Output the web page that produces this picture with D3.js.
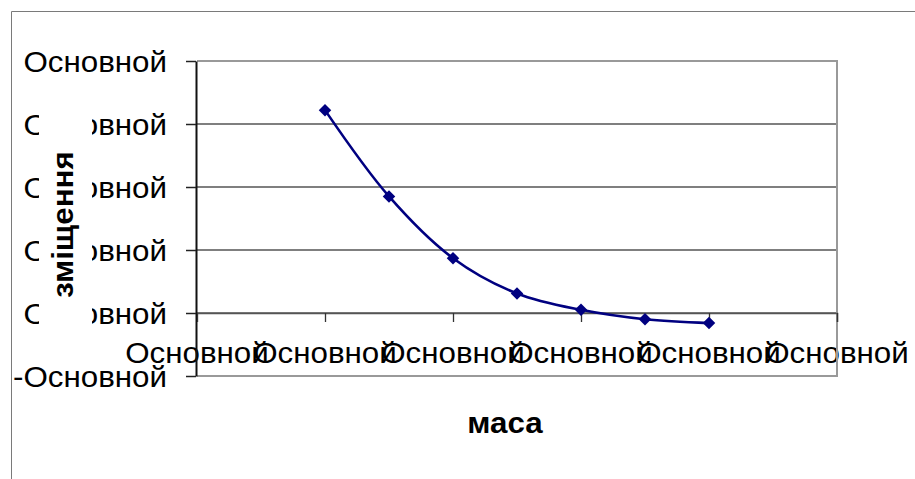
<!DOCTYPE html>
<html>
<head>
<meta charset="utf-8">
<script src="https://cdn.jsdelivr.net/npm/d3@7/dist/d3.min.js"></script>
<style>
  html, body { margin: 0; padding: 0; background: #fff; }
  svg { display: block; }
  text { font-family: "Liberation Sans", Arial, sans-serif; fill: #000; }
</style>
</head>
<body>
<svg id="chart" width="915" height="479"></svg>
<script>
// Mass (x) and measured displacement (y)
const massValues   = [2, 3, 4, 5, 6, 7, 8];
const displacement = [3.22, 1.85, 0.87, 0.31, 0.05, -0.10, -0.16];

// Axis ticks and their (spreadsheet-formatted) labels
const xTicks      = [0, 2, 4, 6, 8, 10];
const xTickLabels = ["Основной", "Основной", "Основной", "Основной", "Основной", "Основной"];
const yTicks      = [-1, 0, 1, 2, 3, 4];
const yTickLabels = ["-Основной", "Основной", "Основной", "Основной", "Основной", "Основной"];

const xTitle = "маса";
const yTitle = "зміщення";

const W = 915, H = 479;
const plot = { left: 197, right: 837, top: 61, bottom: 376 };
const FONT = 29;
const STRETCH = 1.08;

const svg = d3.select("#chart");

const x = d3.scaleLinear().domain([0, 10]).range([plot.left, plot.right]);
const y = d3.scaleLinear().domain([-1, 4]).range([plot.bottom, plot.top]);

// widen glyphs slightly, as the chart's text is rendered a bit wide
function widen(sel) {
  sel.each(function () {
    const w = this.getComputedTextLength();
    this.setAttribute("textLength", w * STRETCH);
    this.setAttribute("lengthAdjust", "spacingAndGlyphs");
  });
}

// outer chart frame
svg.append("path")
  .attr("d", `M11.5,${H} V11.5 H${W}`)
  .attr("fill", "none").attr("stroke", "#7a7a7a").attr("stroke-width", 1);

// horizontal gridlines
svg.append("g")
  .selectAll("line")
  .data(yTicks.filter(v => v > -1 && v < 4))
  .join("line")
  .attr("x1", plot.left).attr("x2", plot.right)
  .attr("y1", d => y(d)).attr("y2", d => y(d))
  .attr("stroke", "#555").attr("stroke-width", 1.4);

// x tick labels (centred under the ticks, they overlap each other)
const xLab = svg.append("g")
  .selectAll("text")
  .data(xTicks)
  .join("text")
  .attr("x", d => x(d))
  .attr("y", y(0) + 50)
  .attr("text-anchor", "middle")
  .attr("font-size", FONT)
  .text((d, i) => xTickLabels[i]);
widen(xLab);

// y tick labels
const yLab = svg.append("g")
  .selectAll("text")
  .data(yTicks)
  .join("text")
  .attr("x", plot.left - 30)
  .attr("y", d => y(d) + 11)
  .attr("text-anchor", "end")
  .attr("font-size", FONT)
  .text((d, i) => yTickLabels[i]);
widen(yLab);

// plot area border (top, right, bottom)
svg.append("path")
  .attr("d", `M${plot.left},${plot.top} H${plot.right} V${plot.bottom} H${plot.left}`)
  .attr("fill", "none").attr("stroke", "#999").attr("stroke-width", 2);

// x axis at zero with downward ticks
const xAxis = d3.axisBottom(x).tickValues(xTicks).tickSize(9).tickFormat("");
const gx = svg.append("g").attr("transform", `translate(0,${y(0)})`).call(xAxis);
gx.select(".domain").attr("stroke", "#555").attr("stroke-width", 1.4);
gx.selectAll(".tick line").attr("stroke", "#333").attr("stroke-width", 1.3);
gx.selectAll(".tick").filter(d => d === 0).remove();

// y axis with outward ticks
const yAxis = d3.axisLeft(y).tickValues(yTicks).tickSize(10).tickSizeOuter(0).tickFormat("");
const gy = svg.append("g").attr("transform", `translate(${plot.left - 1},0)`).call(yAxis);
gy.select(".domain").attr("stroke", "#111").attr("stroke-width", 2);
gy.selectAll(".tick line").attr("stroke", "#222").attr("stroke-width", 1.5);

// y axis title on a white box
const yTitleCy = (plot.top + plot.bottom) / 2 + 6;
svg.append("rect")
  .attr("x", 39).attr("y", yTitleCy - 118)
  .attr("width", 53).attr("height", 236)
  .attr("fill", "#fff");
const yt = svg.append("text")
  .attr("transform", `translate(73,${yTitleCy}) rotate(-90)`)
  .attr("text-anchor", "middle")
  .attr("font-size", FONT).attr("font-weight", "bold")
  .text(yTitle);
widen(yt);

// x axis title
const xt = svg.append("text")
  .attr("x", 505)
  .attr("y", 433)
  .attr("text-anchor", "middle")
  .attr("font-size", FONT).attr("font-weight", "bold")
  .text(xTitle);
widen(xt);

// data series: smoothed line with diamond markers
const pts = massValues.map((m, i) => [m, displacement[i]]);
const line = d3.line()
  .x(d => x(d[0])).y(d => y(d[1]))
  .curve(d3.curveCatmullRom.alpha(0.5));

svg.append("path")
  .datum(pts)
  .attr("d", line)
  .attr("fill", "none")
  .attr("stroke", "#000080")
  .attr("stroke-width", 2.6);

svg.append("g")
  .selectAll("path")
  .data(pts)
  .join("path")
  .attr("transform", d => `translate(${x(d[0])},${y(d[1])})`)
  .attr("d", d3.symbol(d3.symbolDiamond2, 100))
  .attr("fill", "#000080");
</script>
</body>
</html>
